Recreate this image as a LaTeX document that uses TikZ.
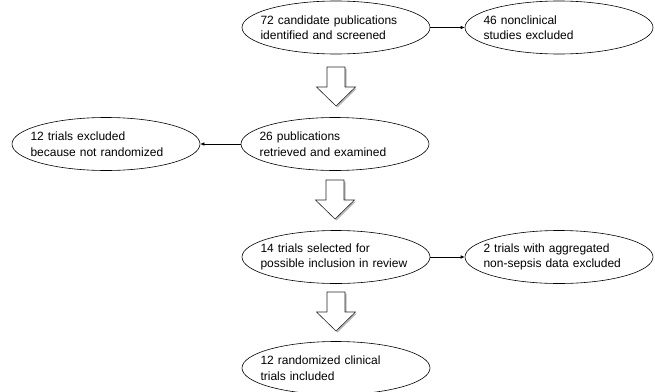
\documentclass[tikz,border=0pt]{standalone}
\usepackage{fontspec}
\setmainfont{Liberation Sans}
\usetikzlibrary{shapes.geometric,arrows.meta,shadows}
\hyphenpenalty=10000
\exhyphenpenalty=10000
\tikzset{
  oval/.style={ellipse, draw, line width=0.6pt, minimum width=188pt, minimum height=53pt,
    inner xsep=-12pt, inner ysep=0pt, text width=151pt, align=left,
    font=\fontsize{12}{15.5}\selectfont},
  link/.style={-{Latex[length=4pt,width=3.5pt]}, line width=0.6pt},
  bigarrow/.style={draw=black!85, fill=white, line width=0.6pt,
    drop shadow={shadow xshift=1.5pt, shadow yshift=-1.5pt, fill=black!60, opacity=0.45}}
}
\newcommand\flowarrow[1]{\path[bigarrow] (#1) +(-9,0) -- +(9,0) -- +(9,20) -- +(19.5,20) -- +(0,39) -- +(-19.5,20) -- +(-9,20) -- cycle;}
\begin{document}
\begin{tikzpicture}[x=1pt,y=-1pt]
\useasboundingbox (0,0) rectangle (655,391);
\node[oval] (e1) at (336,27.5) {72 candidate publications\\identified and screened};
\node[oval] (e2) at (559,27.5) {46 nonclinical\\studies excluded};
\node[oval] (e3) at (335,144) {26 publications\\retrieved and examined};
\node[oval] (e4) at (106,144) {12 trials excluded\\because not randomized};
\node[oval] (e5) at (336,257) {14 trials selected for\\possible inclusion in review};
\node[oval] (e6) at (559,257) {2 trials with aggregated\\non-sepsis data excluded};
\node[oval] (e7) at (336,368) {12 randomized clinical\\trials included};
\draw[link] (e1.east) -- (e2.west);
\draw[link] (e3.west) -- (e4.east);
\draw[link] (e5.east) -- (e6.west);
\coordinate (b1) at (336,67);
\coordinate (b2) at (335,180);
\coordinate (b3) at (336,292);
\flowarrow{b1}
\flowarrow{b2}
\flowarrow{b3}
\end{tikzpicture}
\end{document}
